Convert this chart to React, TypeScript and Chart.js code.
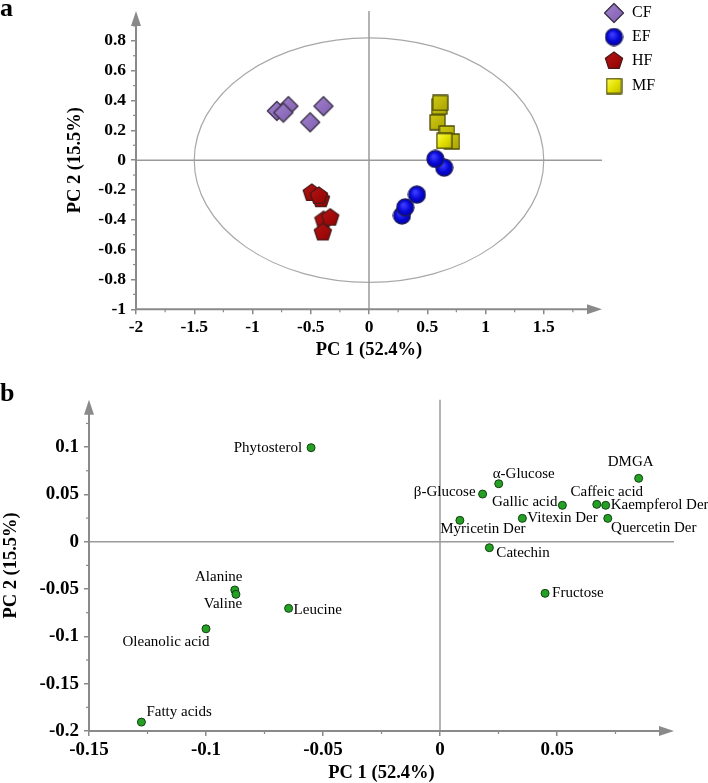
import React, { useEffect, useRef } from "react";
import { Chart, registerables } from "chart.js";

Chart.register(...registerables);

// ---------- Panel a: PCA scores ----------
const groupNames = ["CF", "EF", "HF", "MF"];
const cfPC1 = [-0.692, -0.791, -0.735, -0.391, -0.505];
const cfPC2 = [0.362, 0.33, 0.319, 0.362, 0.254];
const efPC1 = [0.283, 0.311, 0.411, 0.645, 0.57];
const efPC2 = [-0.371, -0.317, -0.231, -0.05, 0.008];
const hfPC1 = [-0.491, -0.413, -0.43, -0.391, -0.333, -0.396];
const hfPC2 = [-0.22, -0.262, -0.24, -0.403, -0.386, -0.485];
const mfPC1 = [0.603, 0.612, 0.588, 0.669, 0.712, 0.646];
const mfPC2 = [0.358, 0.384, 0.254, 0.179, 0.125, 0.129];
const scoreXRange = [-2, 2];
const scoreYRange = [-1, 1];
const scoreXStep = 0.5;
const scoreYStep = 0.2;
const ellipseRadiusPC1 = 1.5;
const ellipseRadiusPC2 = 0.82;

// ---------- Panel b: PCA loadings ----------
const variableNames = [
  "Phytosterol", "Alanine", "Valine", "Leucine", "Oleanolic acid", "Fatty acids",
  "α-Glucose", "β-Glucose", "Myricetin Der", "Gallic acid", "Vitexin Der",
  "Caffeic acid", "Kaempferol Der", "Quercetin Der", "DMGA", "Catechin", "Fructose",
];
const loadingPC1 = [
  -0.0551, -0.0877, -0.0872, -0.0647, -0.1, -0.1276,
  0.0251, 0.0182, 0.0085, 0.0523, 0.0352,
  0.067, 0.0708, 0.0717, 0.0849, 0.0211, 0.0449,
];
const loadingPC2 = [
  0.0994, -0.051, -0.0556, -0.0704, -0.092, -0.1906,
  0.0613, 0.0504, 0.0226, 0.0385, 0.0247,
  0.0395, 0.0385, 0.0247, 0.067, -0.0063, -0.0545,
];
const loadXRange = [-0.15, 0.1];
const loadYRange = [-0.2, 0.15];
const loadStep = 0.05;

const pc1Title = "PC 1 (52.4%)";
const pc2Title = "PC 2 (15.5%)";

// ---------- styles ----------
const SERIF = '"Liberation Serif", "Times New Roman", Times, serif';
const AXIS_COLOR = "#8a8a8a";
const CROSS_COLOR = "#9a9a9a";
// label placement for loadings: [textAlign, dx, dy]
const labelPlacement: [CanvasTextAlign, number, number][] = [
  ["right", -9, 0], ["center", -16, -13], ["center", -13, 10], ["left", 5, 2],
  ["center", -40, 13], ["left", 5, -10], ["center", 25, -10], ["right", -7, -2],
  ["center", 23, 9], ["right", -5, -3], ["left", 5, 0], ["center", 10, -12],
  ["left", 5, 0], ["center", 46, 10], ["center", -8, -16], ["left", 7, 5],
  ["left", 7, 0],
];

function makeMarker(kind: string, bright = true): HTMLCanvasElement {
  const s = kind === "diamond" ? 22 : kind === "circle" ? 19 : kind === "pentagon" ? 20 : 17;
  const c = document.createElement("canvas");
  c.width = s;
  c.height = s;
  const g = c.getContext("2d") as CanvasRenderingContext2D;
  g.lineJoin = "round";
  g.beginPath();
  let fill: CanvasGradient;
  let stroke = "#333";
  if (kind === "diamond") {
    g.moveTo(s / 2, 1.5);
    g.lineTo(s - 1.5, s / 2);
    g.lineTo(s / 2, s - 1.5);
    g.lineTo(1.5, s / 2);
    g.closePath();
    fill = g.createLinearGradient(0, 0, s, s);
    fill.addColorStop(0, "#a686d2");
    fill.addColorStop(1, "#7b5aab");
    stroke = "#3a3046";
  } else if (kind === "circle") {
    g.arc(s / 2, s / 2, s / 2 - 1, 0, Math.PI * 2);
    fill = g.createRadialGradient(s * 0.4, s * 0.36, 1, s / 2, s / 2, s / 2);
    fill.addColorStop(0, "#3a3aff");
    fill.addColorStop(0.55, "#0808d6");
    fill.addColorStop(1, "#00009c");
    stroke = "#1c1c5c";
  } else if (kind === "pentagon") {
    const r = s / 2 - 1;
    const cy = 1 + r;
    for (let k = 0; k < 5; k++) {
      const ang = -Math.PI / 2 + (k * 2 * Math.PI) / 5;
      const px = s / 2 + r * Math.cos(ang);
      const py = cy + r * Math.sin(ang);
      if (k === 0) g.moveTo(px, py);
      else g.lineTo(px, py);
    }
    g.closePath();
    fill = g.createLinearGradient(0, 0, s, s);
    fill.addColorStop(0, "#bb1515");
    fill.addColorStop(1, "#8a0000");
    stroke = "#4a1a1a";
  } else {
    g.rect(1, 1, s - 2, s - 2);
    fill = g.createLinearGradient(0, 0, s, s);
    if (bright) {
      fill.addColorStop(0, "#ffff60");
      fill.addColorStop(0.5, "#e4e200");
      fill.addColorStop(1, "#b9b400");
    } else {
      fill.addColorStop(0, "#d2cd14");
      fill.addColorStop(1, "#a8a200");
    }
    stroke = "#4e4c0a";
  }
  g.fillStyle = fill;
  g.fill();
  g.lineWidth = 1.3;
  g.strokeStyle = stroke;
  g.stroke();
  return c;
}

const fmt = (v: any) => String(+Number(v).toFixed(3));

function line(ctx: CanvasRenderingContext2D, x1: number, y1: number, x2: number, y2: number) {
  ctx.beginPath();
  ctx.moveTo(x1, y1);
  ctx.lineTo(x2, y2);
  ctx.stroke();
}

function drawFrame(chart: any, xMinor: number, yMinor: number) {
  const { ctx, chartArea: a, scales } = chart;
  const xs = scales.x;
  const ys = scales.y;
  ctx.save();
  // cross lines through origin
  ctx.strokeStyle = CROSS_COLOR;
  ctx.lineWidth = 1.5;
  const ox = xs.getPixelForValue(0);
  const oy = ys.getPixelForValue(0);
  line(ctx, a.left, oy, a.right, oy);
  line(ctx, ox, a.top, ox, a.bottom);
  // axes with arrows
  ctx.strokeStyle = AXIS_COLOR;
  ctx.fillStyle = AXIS_COLOR;
  ctx.lineWidth = 2;
  line(ctx, a.left, a.bottom, a.right - 12, a.bottom);
  line(ctx, a.left, a.bottom, a.left, a.top + 12);
  ctx.beginPath();
  ctx.moveTo(a.right, a.bottom);
  ctx.lineTo(a.right - 15, a.bottom - 5);
  ctx.lineTo(a.right - 15, a.bottom + 5);
  ctx.closePath();
  ctx.fill();
  ctx.beginPath();
  ctx.moveTo(a.left, a.top);
  ctx.lineTo(a.left - 5, a.top + 15);
  ctx.lineTo(a.left + 5, a.top + 15);
  ctx.closePath();
  ctx.fill();
  // minor ticks
  ctx.lineWidth = 1.2;
  const [x0, x1] = [xs.min, xs.max];
  for (let v = x0 + xMinor; v < x1 - 1e-9; v += 2 * xMinor) {
    const px = xs.getPixelForValue(v);
    line(ctx, px, a.bottom, px, a.bottom + 3);
  }
  const [y0, y1] = [ys.min, ys.max];
  for (let v = y0 + yMinor; v < y1 - 1e-9; v += 2 * yMinor) {
    const py = ys.getPixelForValue(v);
    line(ctx, a.left, py, a.left - 3, py);
  }
  ctx.restore();
}

function axisOptions(min: number, max: number, step: number, isX: boolean, size: number, tickSize: number, titlePad: number) {
  return {
    type: "linear",
    min,
    max,
    position: isX ? "bottom" : "left",
    border: { display: false },
    grid: {
      display: true,
      drawOnChartArea: false,
      drawTicks: true,
      tickLength: 5,
      color: AXIS_COLOR,
      lineWidth: 1.5,
    },
    ticks: {
      stepSize: step,
      autoSkip: false,
      maxRotation: 0,
      padding: isX ? 3 : 5,
      color: "#000",
      font: { family: SERIF, size: tickSize, weight: "bold" },
      callback: fmt,
    },
    title: {
      display: true,
      text: isX ? pc1Title : pc2Title,
      color: "#000",
      font: { family: SERIF, size: 18.5, weight: "bold", lineHeight: 1.1 },
      padding: { top: isX ? 0 : titlePad, bottom: 0 },
    },
    afterBuildTicks: (scale: any) => {
      scale.ticks = scale.ticks.filter((t: any) => t.value < max - 1e-9);
    },
    afterFit: (scale: any) => {
      if (isX) scale.height = size;
      else scale.width = size;
      scale.paddingTop = 0;
      scale.paddingBottom = 0;
      scale.paddingLeft = 0;
      scale.paddingRight = 0;
    },
  };
}

export default function App() {
  const refA = useRef<HTMLCanvasElement>(null);
  const refB = useRef<HTMLCanvasElement>(null);

  useEffect(() => {
    const diamond = makeMarker("diamond");
    const circle = makeMarker("circle");
    const pentagon = makeMarker("pentagon");
    const squareBright = makeMarker("square", true);
    const squareDull = makeMarker("square", false);
    const legendMarkers = [diamond, circle, pentagon, squareBright];

    const pts = (xs: number[], ys: number[]) => xs.map((x, i) => ({ x, y: ys[i] }));

    const scorePlugin = {
      id: "scoreDecor",
      beforeDatasetsDraw(chart: any) {
        const { ctx, scales } = chart;
        const xs = scales.x;
        const ys = scales.y;
        ctx.save();
        const cx = xs.getPixelForValue(0);
        const cy = ys.getPixelForValue(0);
        const rx = xs.getPixelForValue(ellipseRadiusPC1) - cx;
        const ry = cy - ys.getPixelForValue(ellipseRadiusPC2);
        ctx.strokeStyle = "#a8a8a8";
        ctx.lineWidth = 1.2;
        ctx.beginPath();
        ctx.ellipse(cx, cy, rx, ry, 0, 0, Math.PI * 2);
        ctx.stroke();
        ctx.restore();
        drawFrame(chart, scoreXStep / 2, scoreYStep / 2);
      },
      afterDraw(chart: any) {
        const { ctx } = chart;
        ctx.save();
        const ys = [13, 37, 61, 86];
        ctx.font = `16px ${SERIF}`;
        ctx.fillStyle = "#000";
        ctx.textAlign = "left";
        ctx.textBaseline = "middle";
        groupNames.forEach((name, i) => {
          const m = legendMarkers[i];
          ctx.drawImage(m, 614 - m.width / 2, ys[i] - m.height / 2);
          ctx.fillText(name, 632, ys[i]);
        });
        ctx.font = `bold 26px ${SERIF}`;
        ctx.textBaseline = "alphabetic";
        ctx.fillText("a", 0, 16);
        ctx.restore();
      },
    };

    const chartA = new Chart(refA.current as HTMLCanvasElement, {
      type: "scatter",
      data: {
        datasets: [
          { label: groupNames[0], data: pts(cfPC1, cfPC2), pointStyle: diamond, pointRadius: 10 },
          { label: groupNames[1], data: pts(efPC1, efPC2), pointStyle: circle, pointRadius: 9 },
          { label: groupNames[2], data: pts(hfPC1, hfPC2), pointStyle: pentagon, pointRadius: 9 },
          {
            label: groupNames[3],
            data: pts(mfPC1, mfPC2),
            pointStyle: mfPC1.map((_, i) => (i === mfPC1.length - 1 ? squareBright : squareDull)),
            pointRadius: 8,
          },
        ],
      },
      options: {
        animation: false,
        responsive: false,
        layout: { padding: { left: 0, right: 106, top: 0, bottom: 0 } },
        plugins: { legend: { display: false }, tooltip: { enabled: false } },
        scales: {
          x: axisOptions(scoreXRange[0], scoreXRange[1], scoreXStep, true, 50.7, 17.5, 0),
          y: axisOptions(scoreYRange[0], scoreYRange[1], scoreYStep, false, 136, 17.5, 65),
        },
      } as any,
      plugins: [scorePlugin],
    });

    const loadPlugin = {
      id: "loadDecor",
      beforeDatasetsDraw(chart: any) {
        drawFrame(chart, loadStep / 2, loadStep / 2);
      },
      afterDatasetsDraw(chart: any) {
        const { ctx } = chart;
        const meta = chart.getDatasetMeta(0);
        ctx.save();
        ctx.font = `15px ${SERIF}`;
        ctx.fillStyle = "#000";
        ctx.textBaseline = "middle";
        meta.data.forEach((el: any, i: number) => {
          const [align, dx, dy] = labelPlacement[i];
          ctx.textAlign = align;
          ctx.fillText(variableNames[i], el.x + dx, el.y + dy);
        });
        ctx.font = `bold 26px ${SERIF}`;
        ctx.textAlign = "left";
        ctx.textBaseline = "alphabetic";
        ctx.fillText("b", 0, 41);
        ctx.restore();
      },
    };

    const chartB = new Chart(refB.current as HTMLCanvasElement, {
      type: "scatter",
      data: {
        datasets: [
          {
            label: "Loadings",
            data: pts(loadingPC1, loadingPC2),
            pointStyle: "circle",
            pointRadius: 4,
            backgroundColor: "#24a024",
            borderColor: "#124012",
            borderWidth: 1,
          },
        ],
      },
      options: {
        animation: false,
        responsive: false,
        layout: { padding: { left: 0, right: 34, top: 39.8, bottom: 0 } },
        plugins: { legend: { display: false }, tooltip: { enabled: false } },
        scales: {
          x: axisOptions(loadXRange[0], loadXRange[1], loadStep, true, 52, 19, 0),
          y: axisOptions(loadYRange[0], loadYRange[1], loadStep, false, 89, 19, 1),
        },
      } as any,
      plugins: [loadPlugin],
    });

    return () => {
      chartA.destroy();
      chartB.destroy();
    };
  }, []);

  return (
    <div style={{ position: "absolute", left: 0, top: 0, width: 708, height: 783, background: "#fff" }}>
      <canvas ref={refA} width={708} height={360} style={{ position: "absolute", left: 0, top: 0, width: 708, height: 360 }} />
      <canvas ref={refB} width={708} height={423} style={{ position: "absolute", left: 0, top: 360, width: 708, height: 423 }} />
    </div>
  );
}
